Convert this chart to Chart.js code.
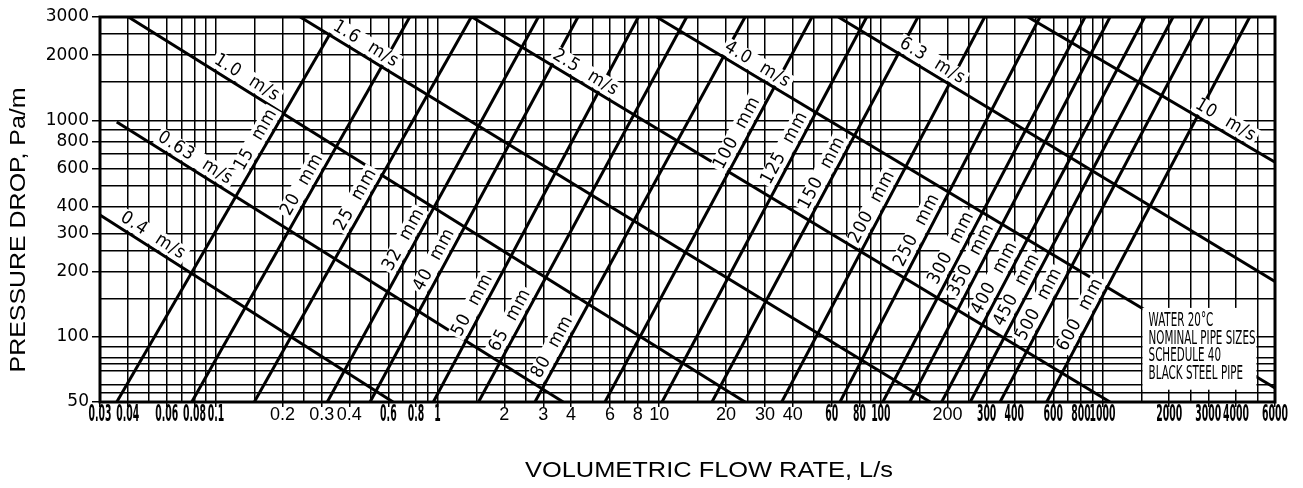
<!DOCTYPE html>
<html>
<head>
<meta charset="utf-8">
<script src="https://cdn.jsdelivr.net/npm/chart.js@4.4.0/dist/chart.umd.min.js"></script>
<style>
  html, body { margin: 0; padding: 0; background: #fff; }
  #wrap { width: 1303px; height: 488px; }
</style>
</head>
<body>
<div id="wrap"><canvas id="chart" width="1303" height="488"></canvas></div>
<script>
// --- pipe size lines: flow (L/s) where each one crosses 50 Pa/m and 3000 Pa/m ---
const PIPE_SIZES = ['15', '20', '25', '32', '40', '50', '65', '80', '100', '125', '150', '200', '250', '300', '350', '400', '450', '500', '600'];
const PIPE_FLOW_AT_50 = [0.0357, 0.0778, 0.149, 0.318, 0.496, 0.957, 1.53, 2.75, 5.69, 10.3, 17.3, 35.7, 65.4, 102, 135, 188, 253, 345, 560];
const PIPE_FLOW_AT_3000 = [0.362, 0.749, 1.42, 2.85, 4.30, 8.05, 13.3, 24.4, 48.9, 86.3, 147, 294, 522, 834, 1081, 1551, 2080, 2841, 4614];
// pressure drop where each "xx mm" label sits on its line
const PIPE_LABEL_DROP = [769, 477, 407, 266, 215, 133, 113, 85, 828, 706, 541, 377, 295, 244, 215, 177, 156, 134, 120];

// --- velocity lines: start and end points ---
const VELOCITIES = ['0.4', '0.63', '1.0', '1.6', '2.5', '4.0', '6.3', '10'];
const VEL_START_FLOW = [0.03, 0.0357, 0.0403, 0.240, 1.43, 9.74, 64.3, 461];
const VEL_START_DROP = [365, 982, 3000, 3000, 3000, 3000, 3000, 3000];
const VEL_END_FLOW = [0.63, 3.69, 24.4, 167, 1081, 6000, 6000, 6000];
const VEL_END_DROP = [50, 50, 50, 50, 50, 58, 180, 640];
// flow where each "x m/s" label sits on its line
const VEL_LABEL_FLOW = [0.049, 0.076, 0.13, 0.447, 4.39, 26.2, 161, 3390];

// --- axes ---
const X_LABELS = [0.03, 0.04, 0.06, 0.08, 0.1, 0.2, 0.3, 0.4, 0.6, 0.8, 1, 2, 3, 4, 6, 8, 10, 20, 30, 40, 60, 80, 100, 200, 300, 400, 600, 800, 1000, 2000, 3000, 4000, 6000];
const X_PLAIN = [0.2, 0.3, 0.4, 2, 3, 4, 6, 8, 10, 20, 30, 40, 200];
const Y_LABELS = [3000, 2000, 1000, 800, 600, 400, 300, 200, 100, 50];
const Y_GRID = [50, 55, 60, 70, 75, 80, 90, 100, 150, 200, 250, 300, 400, 500, 600, 700, 800, 900, 1000, 1500, 2000, 2500, 3000];
const NOTE_LINES = ['WATER 20\u00b0C', 'NOMINAL PIPE SIZES', 'SCHEDULE 40', 'BLACK STEEL PIPE'];

// grid lines per decade (hand-drawn sheet, roughly these)
const X_GRID = [];
[0.01, 0.1, 1, 10, 100, 1000].forEach(d => {
    [1, 1.5, 2, 2.5, 3, 4, 5, 6, 7, 8, 9].forEach(m => {
        const v = +(m * d).toPrecision(6);
        if (v >= 0.03 && v <= 6000) X_GRID.push(v);
    });
});

const NARROW = '"DejaVu Sans Condensed", "Liberation Sans Narrow", sans-serif';
const PLAIN = '"Liberation Sans", Arial, sans-serif';
const isIn = (list, v) => list.some(l => Math.abs(l - v) < l * 1e-6);

const datasets = [];
PIPE_SIZES.forEach((s, i) => {
    datasets.push({
        label: s + ' mm',
        data: [{ x: PIPE_FLOW_AT_50[i], y: 50 }, { x: PIPE_FLOW_AT_3000[i], y: 3000 }]
    });
});
VELOCITIES.forEach((v, i) => {
    datasets.push({
        label: v + ' m/s',
        data: [{ x: VEL_START_FLOW[i], y: VEL_START_DROP[i] }, { x: VEL_END_FLOW[i], y: VEL_END_DROP[i] }]
    });
});
datasets.forEach(d => Object.assign(d, {
    showLine: true, borderColor: '#000', borderWidth: 3, pointRadius: 0, borderCapStyle: 'butt'
}));

// label sitting beside a line, rotated along it
function putLabel(ctx, text, px, py, dx, dy, off) {
    const len = Math.hypot(dx, dy);
    ctx.save();
    ctx.translate(px + dy / len * off, py - dx / len * off);
    ctx.rotate(Math.atan2(dy, dx));
    const w = ctx.measureText(text).width;
    ctx.fillStyle = '#fff';
    ctx.fillRect(-w / 2 - 2, -9, w + 4, 18);
    ctx.fillStyle = '#000';
    ctx.textAlign = 'center';
    ctx.textBaseline = 'middle';
    ctx.fillText(text, 0, 0);
    ctx.restore();
}

function stretchText(ctx, text, cx, cy, width, angle) {
    ctx.save();
    ctx.translate(cx, cy);
    ctx.rotate(angle);
    const w = ctx.measureText(text).width;
    ctx.scale(width / w, 1);
    ctx.textAlign = 'center';
    ctx.textBaseline = 'middle';
    ctx.fillText(text, 0, 0);
    ctx.restore();
}

const nomogram = {
    id: 'nomogram',
    afterDatasetsDraw(chart) {
        const { ctx, scales: { x, y } } = chart;
        ctx.save();
        ctx.font = '18px ' + NARROW;
        ctx.letterSpacing = '1px';

        PIPE_SIZES.forEach((s, i) => {
            const x0 = x.getPixelForValue(PIPE_FLOW_AT_50[i]), y0 = y.getPixelForValue(50);
            const x1 = x.getPixelForValue(PIPE_FLOW_AT_3000[i]), y1 = y.getPixelForValue(3000);
            const ly = y.getPixelForValue(PIPE_LABEL_DROP[i]);
            const t = (ly - y0) / (y1 - y0);
            putLabel(ctx, s + '  mm', x0 + t * (x1 - x0), ly, x1 - x0, y1 - y0, 11);
        });

        VELOCITIES.forEach((v, i) => {
            const x0 = x.getPixelForValue(VEL_START_FLOW[i]), y0 = y.getPixelForValue(VEL_START_DROP[i]);
            const x1 = x.getPixelForValue(VEL_END_FLOW[i]), y1 = y.getPixelForValue(VEL_END_DROP[i]);
            const lx = x.getPixelForValue(VEL_LABEL_FLOW[i]);
            const t = (lx - x0) / (x1 - x0);
            putLabel(ctx, v + '  m/s', lx, y0 + t * (y1 - y0), x1 - x0, y1 - y0, 11);
        });
        ctx.letterSpacing = '0px';

        // note box, between the 1500 and 5000 grid lines
        const bl = x.getPixelForValue(1500) + 1, br = x.getPixelForValue(5000) - 1;
        const bt = y.getPixelForValue(136), bb = y.getPixelForValue(57);
        ctx.fillStyle = '#fff';
        ctx.fillRect(bl, bt, br - bl, bb - bt);
        ctx.fillStyle = '#000';
        ctx.font = '20px ' + NARROW;
        const sx = 107 / ctx.measureText(NOTE_LINES[1]).width;
        NOTE_LINES.forEach((line, i) => {
            ctx.save();
            ctx.translate(bl + 6, bt + 13 + i * 17.5);
            ctx.scale(sx, 1);
            ctx.textBaseline = 'middle';
            ctx.fillText(line, 0, 0);
            ctx.restore();
        });

        // heavy frame
        const a = chart.chartArea;
        ctx.strokeStyle = '#000';
        ctx.lineWidth = 3;
        ctx.strokeRect(a.left, a.top, a.right - a.left, a.bottom - a.top);
        ctx.restore();
    },
    afterDraw(chart) {
        const ctx = chart.ctx;
        const xs = chart.scales.x;
        ctx.save();
        ctx.fillStyle = '#000';
        ctx.textAlign = 'center';
        ctx.textBaseline = 'middle';

        // flow tick labels: tall condensed lettering, some in plain type
        ctx.font = 'bold 23px ' + NARROW;
        const squeeze = 23 / ctx.measureText('0.04').width;
        X_LABELS.forEach(v => {
            const px = xs.getPixelForValue(v);
            ctx.save();
            ctx.translate(px, 415);
            if (isIn(X_PLAIN, v)) {
                ctx.font = '18px ' + PLAIN;
            } else {
                ctx.font = 'bold 23px ' + NARROW;
                ctx.scale(squeeze, 1);
            }
            ctx.fillText(String(v), 0, 0);
            ctx.restore();
        });

        ctx.font = '22px ' + PLAIN;
        stretchText(ctx, 'PRESSURE DROP, Pa/m', 19, 230, 285, -Math.PI / 2);
        stretchText(ctx, 'VOLUMETRIC FLOW RATE, L/s', 709, 471, 368, 0);
        ctx.restore();
    }
};

new Chart(document.getElementById('chart'), {
    type: 'scatter',
    data: { datasets },
    plugins: [nomogram],
    options: {
        responsive: false,
        devicePixelRatio: 1,
        animation: false,
        layout: { padding: { top: 17, right: 28, left: 0, bottom: 0 } },
        plugins: { legend: { display: false }, tooltip: { enabled: false } },
        scales: {
            x: {
                type: 'logarithmic', min: 0.03, max: 6000,
                afterBuildTicks: s => { s.ticks = X_GRID.map(v => ({ value: v })); },
                afterFit: s => { s.height = 86; },
                border: { display: false },
                grid: {
                    color: '#000', lineWidth: 1.5, tickLength: 5,
                    tickColor: c => (c.tick && isIn(X_LABELS, c.tick.value)) ? '#000' : 'rgba(0,0,0,0)'
                },
                ticks: {
                    autoSkip: false, maxRotation: 0, minRotation: 0, padding: 2,
                    callback: () => ''
                }
            },
            y: {
                type: 'logarithmic', min: 50, max: 3000,
                afterBuildTicks: s => { s.ticks = Y_GRID.map(v => ({ value: v })); },
                afterFit: s => { s.width = 100; },
                border: { display: false },
                grid: {
                    color: '#000', lineWidth: 1.5, tickLength: 8,
                    tickColor: c => (c.tick && isIn(Y_LABELS, c.tick.value)) ? '#000' : 'rgba(0,0,0,0)'
                },
                ticks: {
                    autoSkip: false, padding: 3, color: '#000',
                    font: { family: '"DejaVu Sans", sans-serif', size: 17 },
                    callback: v => isIn(Y_LABELS, v) ? String(v) : ''
                }
            }
        }
    }
});
</script>
</body>
</html>
